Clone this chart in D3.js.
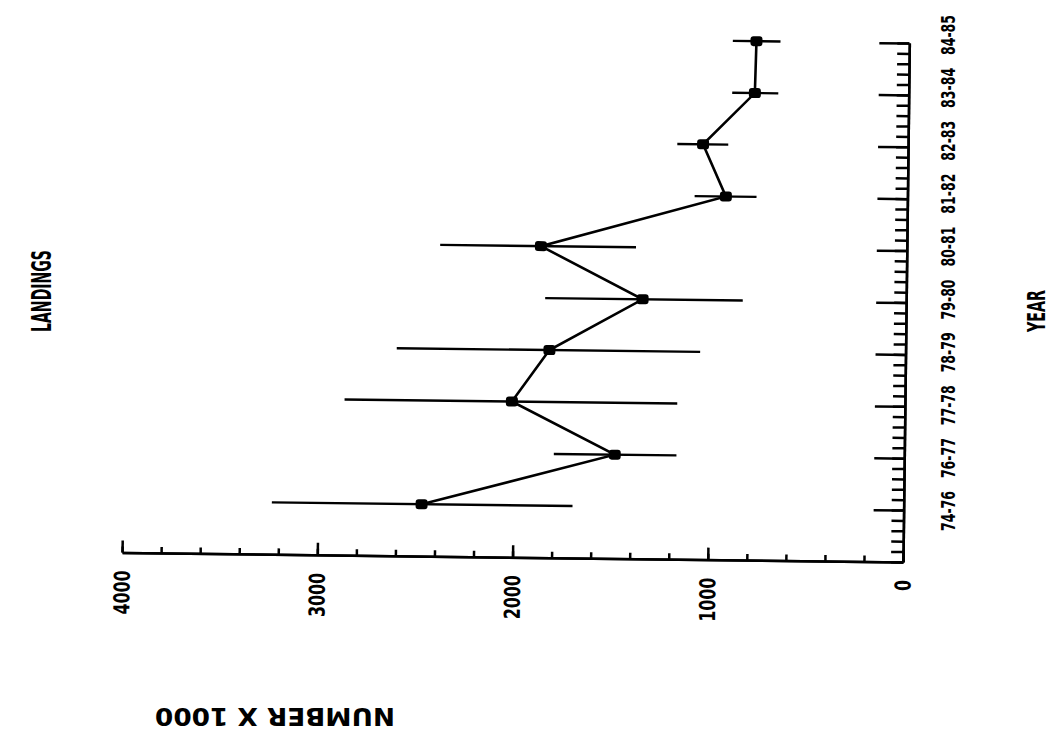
<!DOCTYPE html>
<html>
<head>
<meta charset="utf-8">
<script src="https://cdn.jsdelivr.net/npm/d3@7"></script>
<style>
  html, body { margin: 0; padding: 0; background: #fff; }
  svg { display: block; }
  text { font-family: "DejaVu Sans Condensed", "DejaVu Sans", sans-serif; font-weight: bold; fill: #000; }
</style>
</head>
<body>
<svg id="chart" width="1053" height="740"></svg>
<script>
// ---- data ----
const years = ["74-76", "76-77", "77-78", "78-79", "79-80", "80-81", "81-82", "82-83", "83-84", "84-85"];
const landings = [2469, 1483, 2013, 1824, 1350, 1874, 930, 1050, 788, 783];
const lower = [1696, 1167, 1166, 1052, 837, 1387, 773, 921, 668, 660];
const upper = [3236, 1795, 2870, 2606, 1849, 2390, 1090, 1182, 904, 904];
const valueTicks = [0, 1000, 2000, 3000, 4000];
const valueTickLabels = ["0", "1000", "2000", "3000", "4000"];

const svg = d3.select("#chart");
const ink = "#000";

// value axis (horizontal, 0 on the right) and year axis (vertical, first year at bottom)
const x = d3.scaleLinear().domain([0, 4000]).range([903, 122]);
const y = d3.scaleLinear().domain([0, years.length]).range([562, 43]);
const yLab = d3.scaleLinear().domain([0, years.length - 1]).range([511, 35]);

const g = svg.append("g").attr("transform", "rotate(0.7, 903, 562)");

function styleAxis(sel) {
  sel.selectAll("path").attr("stroke", ink).attr("stroke-width", 2.5);
  sel.selectAll("line").attr("stroke", ink).attr("stroke-width", 2.5);
  sel.selectAll("text").remove();
}

// value axis: minor + major ticks pointing up
g.append("g").attr("transform", "translate(0,562)")
  .call(d3.axisTop(x).tickValues(d3.range(0, 4001, 200)).tickSize(6).tickSizeOuter(0).tickFormat(""))
  .call(styleAxis);
g.append("g").attr("transform", "translate(0,562)")
  .call(d3.axisTop(x).tickValues(valueTicks).tickSize(12).tickSizeOuter(0).tickFormat(""))
  .call(styleAxis);

// year axis: minor + major ticks pointing left
g.append("g").attr("transform", "translate(903,0)")
  .call(d3.axisLeft(y).tickValues(d3.range(0, years.length + 0.001, 0.2)).tickSize(12).tickSizeOuter(0).tickFormat(""))
  .call(styleAxis);
g.append("g").attr("transform", "translate(903,0)")
  .call(d3.axisLeft(y).tickValues(d3.range(1, years.length + 1)).tickSize(30).tickSizeOuter(0).tickFormat(""))
  .call(styleAxis);

// value tick labels (rotated)
g.selectAll("text.vlab").data(valueTicks).join("text")
  .attr("class", "vlab")
  .attr("transform", d => `translate(${x(d)},580) rotate(-90)`)
  .attr("text-anchor", "end")
  .attr("dy", "0.36em")
  .attr("font-size", 22)
  .attr("textLength", (d, i) => valueTickLabels[i].length * 11)
  .attr("lengthAdjust", "spacingAndGlyphs")
  .text((d, i) => valueTickLabels[i]);

// error bars
g.selectAll("line.err").data(years).join("line")
  .attr("class", "err")
  .attr("x1", (d, i) => x(lower[i])).attr("x2", (d, i) => x(upper[i]))
  .attr("y1", (d, i) => y(i + 1)).attr("y2", (d, i) => y(i + 1))
  .attr("stroke", ink).attr("stroke-width", 2.4);

// connecting line
const line = d3.line().x((d, i) => x(d)).y((d, i) => y(i + 1));
g.append("path").datum(landings)
  .attr("d", line).attr("fill", "none")
  .attr("stroke", ink).attr("stroke-width", 2.6);

// markers
g.selectAll("rect.pt").data(landings).join("rect")
  .attr("class", "pt")
  .attr("x", d => x(d) - 6).attr("y", (d, i) => y(i + 1) - 5)
  .attr("width", 12).attr("height", 10).attr("rx", 3)
  .attr("fill", ink);

// year labels
svg.selectAll("text.ylab").data(years).join("text")
  .attr("class", "ylab")
  .attr("transform", (d, i) => `translate(948,${yLab(i)}) rotate(-90)`)
  .attr("text-anchor", "middle")
  .attr("dy", "0.36em")
  .attr("font-size", 19)
  .attr("textLength", 40)
  .attr("lengthAdjust", "spacingAndGlyphs")
  .text(d => d);

// titles
svg.append("text")
  .attr("transform", "translate(41,291) rotate(-90)")
  .attr("text-anchor", "middle").attr("dy", "0.36em")
  .attr("font-size", 27).attr("textLength", 82).attr("lengthAdjust", "spacingAndGlyphs")
  .text("LANDINGS");

svg.append("text")
  .attr("transform", "translate(1036,311) rotate(-90)")
  .attr("text-anchor", "middle").attr("dy", "0.36em")
  .attr("font-size", 25).attr("textLength", 42).attr("lengthAdjust", "spacingAndGlyphs")
  .text("YEAR");

svg.append("text")
  .attr("transform", "translate(275,717) rotate(180)")
  .attr("text-anchor", "middle").attr("dy", "0.36em")
  .attr("font-size", 25).attr("textLength", 240).attr("lengthAdjust", "spacingAndGlyphs")
  .text("NUMBER X 1000");
</script>
</body>
</html>
